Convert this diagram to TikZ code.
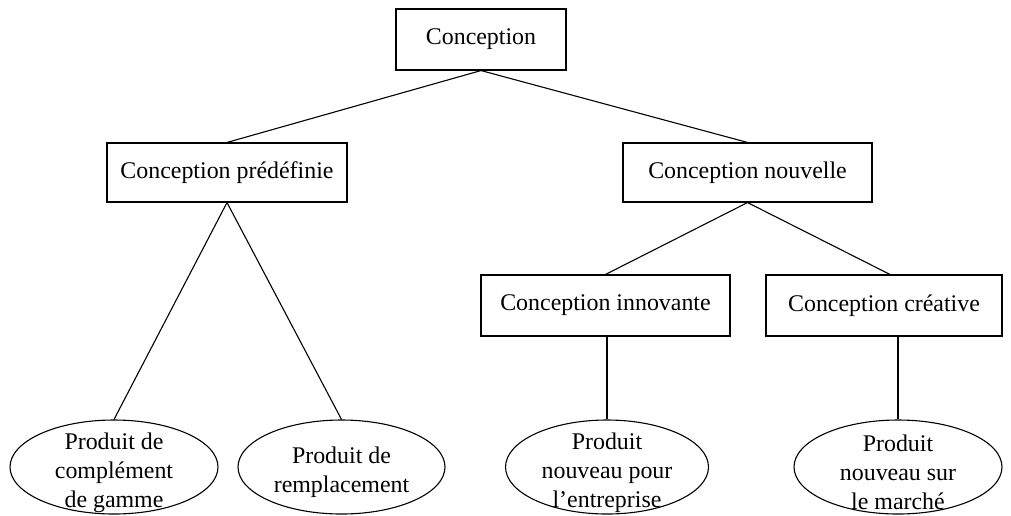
\documentclass[tikz,border=0pt]{standalone}
\usepackage{fontspec}
\setmainfont{Liberation Serif}
\usetikzlibrary{shapes.geometric,calc}
\begin{document}
\begin{tikzpicture}[x=1pt,y=-1pt,
  every node/.style={font=\fontsize{23.9}{29}\selectfont, inner sep=0pt},
  box/.style={draw, line width=1.1pt, rectangle},
  oval/.style={draw, line width=1.1pt, ellipse, minimum height=94},
  ovaltext/.style={align=center},
  link/.style={line width=1.1pt}]
\useasboundingbox (0,0) rectangle (1011,515);
\node[box, minimum width=170, minimum height=61] (c) at (481,39.5) {Conception};
\node[box, minimum width=240, minimum height=59] (p) at (227,172.5) {Conception prédéfinie};
\node[box, minimum width=249, minimum height=59] (n) at (747.5,172.5) {Conception nouvelle};
\node[box, minimum width=249, minimum height=61] (i) at (605.5,305.5) {Conception innovante};
\node[box, minimum width=236, minimum height=61] (r) at (884,305.5) {Conception créative};
\node[oval, minimum width=208] (e1) at (114,467) {};
\node[oval, minimum width=207] (e2) at (341.5,467) {};
\node[oval, minimum width=203] (e3) at (607,467) {};
\node[oval, minimum width=208] (e4) at (898,467) {};
\node[ovaltext] (t1) at ($(e1)+(0,5.5)$) {Produit de\\complément\\de gamme};
\node[ovaltext] (t2) at ($(e2)+(0,5.5)$) {Produit de\\remplacement};
\node[ovaltext] (t3) at ($(e3)+(0,5.5)$) {Produit\\nouveau pour\\l’entreprise};
\node[ovaltext] (t4) at ($(e4)+(0,5.5)$) {Produit\\nouveau sur\\le marché};
\draw[link] (c.south) -- (p.north);
\draw[link] (c.south) -- (n.north);
\draw[link] (n.south) -- (i.north);
\draw[link] (n.south) -- ($(r.north)+(6,0)$);
\draw[link] (p.south) -- (e1.north);
\draw[link] (p.south) -- (e2.north);
\draw[link] (i.south -| e3.north) -- (e3.north);
\draw[link] (r.south -| e4.north) -- (e4.north);
\end{tikzpicture}
\end{document}
